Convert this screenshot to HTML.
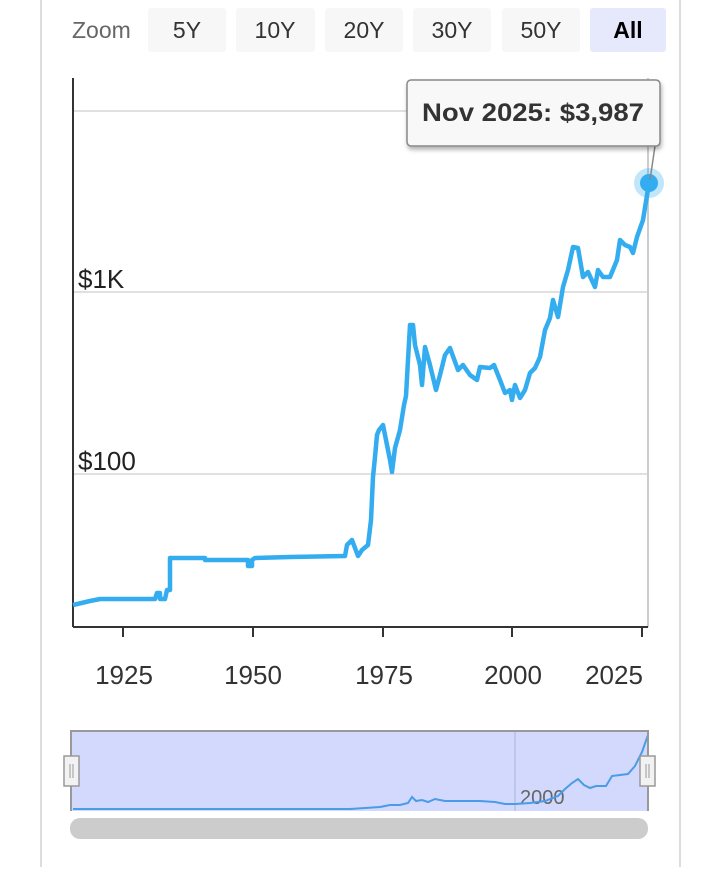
<!DOCTYPE html>
<html><head><meta charset="utf-8"><style>
body{margin:0;background:#fff;width:720px;height:867px;overflow:hidden;font-family:"Liberation Sans",sans-serif;}
</style></head><body>
<svg width="720" height="867" xmlns="http://www.w3.org/2000/svg" font-family="Liberation Sans, sans-serif">
<defs><filter id="sh" x="-20%" y="-20%" width="140%" height="160%"><feDropShadow dx="1" dy="3" stdDeviation="2" flood-color="#000" flood-opacity="0.3"/></filter></defs>
<line x1="41" y1="0" x2="41" y2="867" stroke="#ddd" stroke-width="2"/>
<line x1="680" y1="0" x2="680" y2="867" stroke="#ddd" stroke-width="2"/>
<text x="72" y="38" font-size="23" fill="#666">Zoom</text>
<g font-size="23" fill="#333" text-anchor="middle">
<rect x="148" y="8" width="78" height="44" rx="3" fill="#f7f7f7"/><text x="187" y="38">5Y</text>
<rect x="236" y="8" width="79" height="44" rx="3" fill="#f7f7f7"/><text x="275" y="38">10Y</text>
<rect x="325" y="8" width="78" height="44" rx="3" fill="#f7f7f7"/><text x="364" y="38">20Y</text>
<rect x="413" y="8" width="78" height="44" rx="3" fill="#f7f7f7"/><text x="452" y="38">30Y</text>
<rect x="502" y="8" width="78" height="44" rx="3" fill="#f7f7f7"/><text x="541" y="38">50Y</text>
<rect x="590" y="8" width="76" height="44" rx="3" fill="#e6e9fb"/><text x="628" y="38" font-weight="bold" fill="#000">All</text>
</g>
<line x1="73" y1="111" x2="648" y2="111" stroke="#e0e0e0" stroke-width="2"/>
<line x1="73" y1="292" x2="648" y2="292" stroke="#e0e0e0" stroke-width="2"/>
<line x1="73" y1="474" x2="648" y2="474" stroke="#e0e0e0" stroke-width="2"/>
<line x1="648" y1="78" x2="648" y2="627" stroke="#ccc" stroke-width="2"/>
<line x1="73" y1="78" x2="73" y2="627" stroke="#333" stroke-width="2"/>
<line x1="73" y1="627" x2="648" y2="627" stroke="#333" stroke-width="2"/>
<g stroke="#333" stroke-width="2"><line x1="123" y1="627" x2="123" y2="637"/><line x1="253" y1="627" x2="253" y2="637"/><line x1="383" y1="627" x2="383" y2="637"/><line x1="512" y1="627" x2="512" y2="637"/><line x1="642" y1="627" x2="642" y2="637"/></g>
<g font-size="26" fill="#333" text-anchor="middle"><text x="124" y="684">1925</text><text x="253" y="684">1950</text><text x="384" y="684">1975</text><text x="513" y="684">2000</text><text x="614" y="684">2025</text></g>
<g font-size="26" fill="#222"><text x="78" y="288">$1K</text><text x="78" y="470">$100</text></g>
<polyline fill="none" stroke="#33adf0" stroke-width="4.5" stroke-linejoin="round" points="73,605 90,601 100,599 155,599 157,593 160,593 160,599 165,599 167,590 170,590 170,558 205,558 205,560 248,560 248,566 252,566 252,560 255,558 290,557 345,556 347,545 352,540 355,548 358,556 362,550 368,545 371,520 373,477 375,457 377,435 379,430 383,425 387,445 390,460 392,472 395,448 400,430 404,405 406,396 408,360 410,325 413,325 415,345 420,365 422,385 425,347 430,365 436,390 440,375 445,355 450,348 458,370 463,365 470,375 477,380 480,367 490,368 494,365 500,380 505,393 510,390 512,400 515,385 520,398 525,390 530,373 535,368 540,357 545,330 550,318 553,300 558,317 563,287 568,270 573,247 578,248 583,277 588,272 595,287 598,270 603,277 610,277 617,260 620,240 625,245 630,247 633,253 637,237 643,220 649,183"/>
<circle cx="649" cy="183" r="15" fill="#33adf0" opacity="0.3"/>
<circle cx="649" cy="183" r="9" fill="#33adf0"/>
<line x1="655" y1="146" x2="650" y2="180" stroke="#888" stroke-width="1.5"/>
<rect x="407" y="80" width="253" height="66" rx="4" fill="#f8f8f8" stroke="#888" stroke-width="1.5" filter="url(#sh)"/>
<text x="533" y="121" font-size="25" font-weight="bold" fill="#333" text-anchor="middle" textLength="222" lengthAdjust="spacingAndGlyphs">Nov 2025: $3,987</text>
<rect x="71" y="731" width="577" height="80" fill="#d2d9fc"/>
<line x1="515" y1="731" x2="515" y2="811" stroke="#b8c0e0" stroke-width="1.5"/>
<text x="520" y="804" font-size="20" fill="#666">2000</text>
<polyline fill="none" stroke="#4a9be8" stroke-width="2" points="73,809 350,809 380,807 390,805 400,805 408,803 412,797 416,801 422,800 428,802 435,799 445,801 460,801 480,801 495,802 505,804 515,804 530,803 545,801 558,796 565,789 572,783 578,779 584,785 590,788 596,786 606,786 612,776 620,775 628,774 635,766 642,752 648,735"/>
<path d="M71,811 V731 H648 V811" fill="none" stroke="#999" stroke-width="2"/>
<rect x="64" y="756" width="15" height="30" fill="#f2f2f2" stroke="#999" stroke-width="1.5"/>
<line x1="70" y1="764" x2="70" y2="778" stroke="#999"/><line x1="73" y1="764" x2="73" y2="778" stroke="#999"/>
<rect x="640" y="756" width="15" height="30" fill="#f2f2f2" stroke="#999" stroke-width="1.5"/>
<line x1="646" y1="764" x2="646" y2="778" stroke="#999"/><line x1="649" y1="764" x2="649" y2="778" stroke="#999"/>
<rect x="70" y="818" width="578" height="21" rx="10" fill="#ccc"/>
</svg>
</body></html>
